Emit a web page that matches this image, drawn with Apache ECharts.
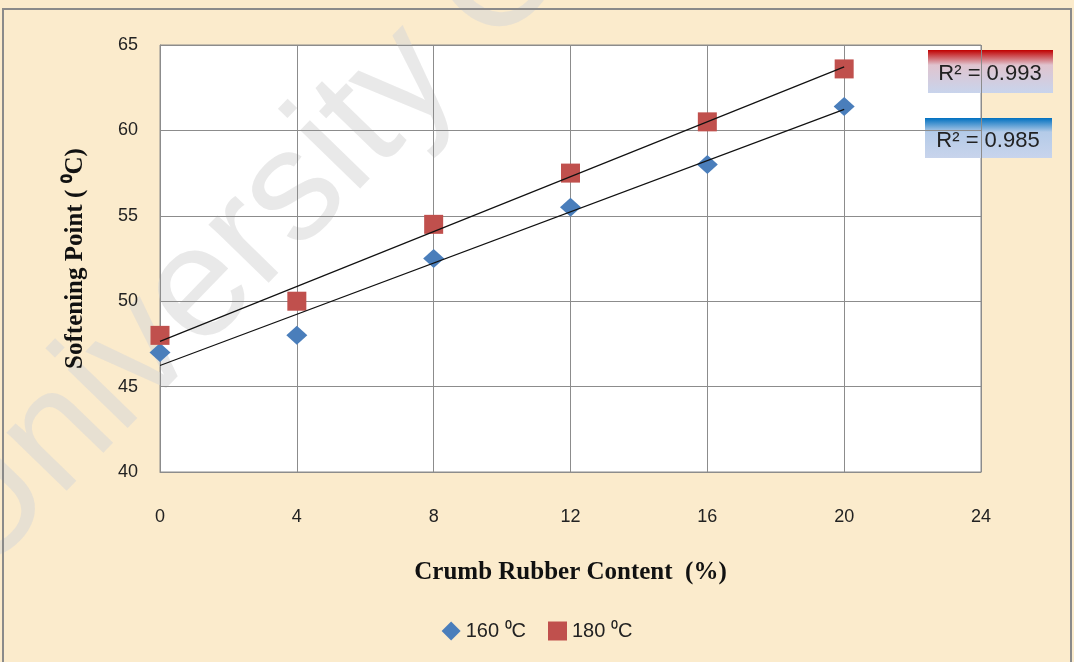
<!DOCTYPE html>
<html><head><meta charset="utf-8">
<script src="https://cdn.jsdelivr.net/npm/echarts@6/dist/echarts.min.js"></script>
<style>html,body{margin:0;padding:0;background:#fff}#c{width:1074px;height:662px}</style>
</head><body><div id="c"></div>
<script>
const xValues = [0, 4, 8, 12, 16, 20];
const s160 = [47.0, 48.0, 52.5, 55.5, 58.0, 61.4];
const s180 = [48.0, 50.0, 54.5, 57.5, 60.5, 63.6];
const seriesNames = ['160 \u2070C', '180 \u2070C'];
const r2Labels = ['R\u00b2 = 0.993', 'R\u00b2 = 0.985'];

function fit(xs, ys) {
  const n = xs.length;
  const mx = xs.reduce((a, b) => a + b, 0) / n, my = ys.reduce((a, b) => a + b, 0) / n;
  let sxy = 0, sxx = 0;
  for (let i = 0; i < n; i++) { sxy += (xs[i] - mx) * (ys[i] - my); sxx += (xs[i] - mx) ** 2; }
  const b = sxy / sxx, a = my - b * mx;
  return [[xs[0], a + b * xs[0]], [xs[n - 1], a + b * xs[n - 1]]];
}
const chart = echarts.init(document.getElementById('c'));
const gridLine = { lineStyle: { color: '#8c8c8c', width: 1 } };
chart.setOption({
  backgroundColor: '#fbebcc',
  animation: false,
  grid: { left: 160, right: 93, top: 45, bottom: 190, show: true, backgroundColor: '#fff', borderColor: '#8c8c8c', borderWidth: 1 },
  xAxis: {
    type: 'value', min: 0, max: 24, interval: 4,
    name: 'Crumb Rubber Content  (%)', nameLocation: 'middle', nameGap: 88,
    nameTextStyle: { fontFamily: 'Liberation Serif', fontWeight: 'bold', fontSize: 25, color: '#111' },
    axisLine: { lineStyle: { color: '#8c8c8c' } }, axisTick: { show: false },
    axisLabel: { fontFamily: 'Liberation Sans', fontSize: 18, color: '#222', margin: 36 },
    splitLine: gridLine
  },
  yAxis: {
    type: 'value', min: 40, max: 65, interval: 5,
    name: 'Softening Point ( \u2070C)', nameLocation: 'middle', nameGap: 72,
    nameTextStyle: { fontFamily: 'Liberation Serif', fontWeight: 'bold', fontSize: 25, color: '#111' },
    axisLine: { show: true, lineStyle: { color: '#8c8c8c' } }, axisTick: { show: false },
    axisLabel: { fontFamily: 'Liberation Sans', fontSize: 18, color: '#222', margin: 22 },
    splitLine: gridLine
  },
  legend: {
    data: seriesNames, bottom: 16, left: 'center', itemGap: 22, itemWidth: 19, itemHeight: 19,
    textStyle: { fontFamily: 'Liberation Sans', fontSize: 20, color: '#222' }
  },
  graphic: [
    { type: 'text', x: 5, y: 605, rotation: 0.8, z: 0, silent: true, style: { text: 'University Of', font: '158px "Liberation Sans"', fill: 'rgba(215,215,215,0.55)', textVerticalAlign: 'bottom' } },
    { type: 'rect', shape: { x: 3, y: 9, width: 1068, height: 660 }, style: { fill: 'none', stroke: '#8a8a8a', lineWidth: 2 }, silent: true, z: 100 },
    { type: 'group', left: 928, top: 50, z: 101, children: [
      { type: 'rect', shape: { x: 0, y: 0, width: 125, height: 43 }, style: { fill: new echarts.graphic.LinearGradient(0, 0, 0, 1, [{ offset: 0, color: '#c00000' }, { offset: 0.35, color: '#e0c4cf' }, { offset: 1, color: '#c8d4ec' }]) } },
      { type: 'text', x: 62, y: 24, style: { text: r2Labels[0], font: '22px "Liberation Sans"', fill: '#222', align: 'center', verticalAlign: 'middle' } }
    ] },
    { type: 'group', left: 925, top: 118, z: 101, children: [
      { type: 'rect', shape: { x: 0, y: 0, width: 127, height: 40 }, style: { fill: new echarts.graphic.LinearGradient(0, 0, 0, 1, [{ offset: 0, color: '#0070c0' }, { offset: 0.35, color: '#b4cbe8' }, { offset: 1, color: '#c8d4ec' }]) } },
      { type: 'text', x: 63, y: 23, style: { text: r2Labels[1], font: '22px "Liberation Sans"', fill: '#222', align: 'center', verticalAlign: 'middle' } }
    ] }
  ],
  series: [
    { name: seriesNames[0], type: 'scatter', symbol: 'diamond', symbolSize: [21, 19], itemStyle: { color: '#4a7ebb', opacity: 1 }, data: xValues.map((x, i) => [x, s160[i]]), z: 3 },
    { name: seriesNames[1], type: 'scatter', symbol: 'rect', symbolSize: 19, itemStyle: { color: '#c0504d', opacity: 1 }, data: xValues.map((x, i) => [x, s180[i]]), z: 3 },
    { type: 'line', data: fit(xValues, s160), symbol: 'none', lineStyle: { color: '#111', width: 1.2 }, z: 4, silent: true },
    { type: 'line', data: fit(xValues, s180), symbol: 'none', lineStyle: { color: '#111', width: 1.2 }, z: 4, silent: true }
  ]
});
</script></body></html>
